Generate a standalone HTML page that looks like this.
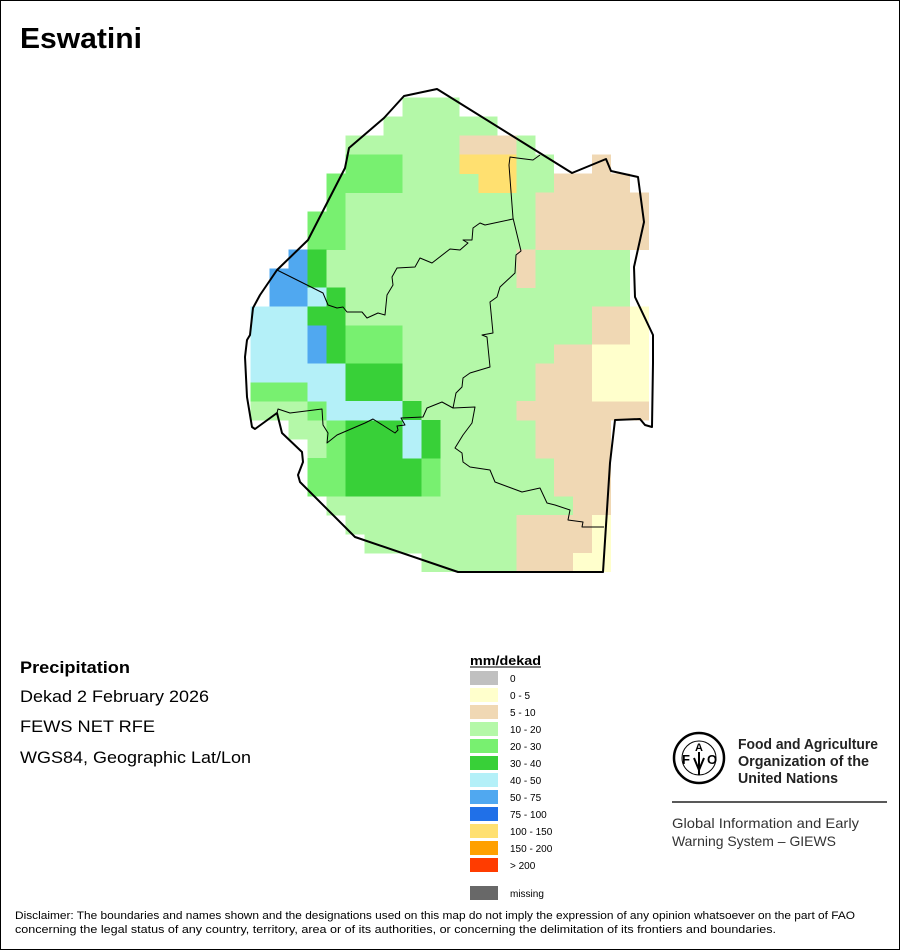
<!DOCTYPE html>
<html><head><meta charset="utf-8">
<style>
html,body{margin:0;padding:0;background:#fff;}
body{width:900px;height:950px;position:relative;overflow:hidden;font-family:"Liberation Sans",sans-serif;}
svg{position:absolute;left:0;top:0;}
</style></head><body>
<svg width="900" height="950" viewBox="0 0 900 950" xmlns="http://www.w3.org/2000/svg">
<rect x="0.5" y="0.5" width="899" height="949" fill="#fff" stroke="#000" stroke-width="1"/>
<text x="20" y="48" font-family="Liberation Sans, sans-serif" font-size="29" font-weight="bold" textLength="122" lengthAdjust="spacingAndGlyphs">Eswatini</text>
<g transform="translate(250.7,97.7) scale(18.97)" shape-rendering="crispEdges">
<g fill="#b4f8a8">
<rect x="8" y="0" width="3" height="1.02"/>
<rect x="7" y="1" width="6" height="1.02"/>
<rect x="5" y="2" width="6" height="1.02"/><rect x="14" y="2" width="1" height="1.02"/>
<rect x="8" y="3" width="3" height="1.02"/><rect x="14" y="3" width="2" height="1.02"/>
<rect x="8" y="4" width="4" height="1.02"/><rect x="14" y="4" width="2" height="1.02"/>
<rect x="5" y="5" width="10" height="3.02"/>
<rect x="4" y="8" width="10" height="2.02"/><rect x="15" y="8" width="5" height="2.02"/>
<rect x="5" y="10" width="15" height="1.02"/>
<rect x="5" y="11" width="13" height="1.02"/>
<rect x="8" y="12" width="10" height="1.02"/>
<rect x="8" y="13" width="8" height="1.02"/>
<rect x="8" y="14" width="7" height="2.02"/>
<rect x="0" y="16" width="3" height="1.02"/><rect x="9" y="16" width="5" height="1.02"/>
<rect x="2" y="17" width="2" height="1.02"/><rect x="10" y="17" width="5" height="2.02"/>
<rect x="3" y="18" width="1" height="1.02"/>
<rect x="10" y="19" width="6" height="2.02"/>
<rect x="4" y="21" width="13" height="1.02"/>
<rect x="5" y="22" width="9" height="1.02"/>
<rect x="6" y="23" width="8" height="1.02"/>
<rect x="9" y="24" width="5" height="1"/>
</g>
<g fill="#78f070">
<rect x="5" y="3" width="3" height="1.02"/>
<rect x="4" y="4" width="4" height="1.02"/>
<rect x="4" y="5" width="1" height="1.02"/>
<rect x="3" y="6" width="2" height="2.02"/>
<rect x="5" y="12" width="3" height="2.02"/>
<rect x="0" y="15" width="3" height="1.02"/>
<rect x="3" y="16" width="1" height="1.02"/>
<rect x="4" y="17" width="1" height="2.02"/>
<rect x="3" y="19" width="2" height="2.02"/><rect x="9" y="19" width="1" height="2.02"/>
</g>
<g fill="#38d038">
<rect x="3" y="8" width="1" height="2.02"/>
<rect x="4" y="10" width="1" height="1.02"/>
<rect x="3" y="11" width="2" height="1.02"/>
<rect x="4" y="12" width="1" height="2.02"/>
<rect x="5" y="14" width="3" height="2.02"/>
<rect x="8" y="16" width="1" height="1.02"/>
<rect x="5" y="17" width="3" height="2.02"/><rect x="9" y="17" width="1" height="2.02"/>
<rect x="5" y="19" width="4" height="2.02"/>
</g>
<g fill="#b4f0f8">
<rect x="3" y="10" width="1" height="1.02"/>
<rect x="0" y="11" width="3" height="3.02"/>
<rect x="3" y="14" width="2" height="2.02"/><rect x="0" y="14" width="3" height="1.02"/>
<rect x="4" y="16" width="4" height="1.02"/>
<rect x="8" y="17" width="1" height="2.02"/>
</g>
<g fill="#50a8f0">
<rect x="2" y="8" width="1" height="1.02"/>
<rect x="1" y="9" width="2" height="2.02"/>
<rect x="3" y="12" width="1" height="2.02"/>
</g>
<g fill="#f0d8b4">
<rect x="11" y="2" width="3" height="1.02"/>
<rect x="18" y="3" width="1" height="1.02"/>
<rect x="16" y="4" width="4" height="1.02"/>
<rect x="15" y="5" width="6" height="3.02"/>
<rect x="14" y="8" width="1" height="2.02"/>
<rect x="18" y="11" width="2" height="2.02"/>
<rect x="16" y="13" width="2" height="1.02"/>
<rect x="15" y="14" width="3" height="2.02"/>
<rect x="14" y="16" width="7" height="1.02"/>
<rect x="15" y="17" width="4" height="2.02"/>
<rect x="16" y="19" width="3" height="2.02"/>
<rect x="17" y="21" width="2" height="1.02"/>
<rect x="14" y="22" width="4" height="2.02"/>
<rect x="14" y="24" width="3" height="1"/>
</g>
<g fill="#ffffcc">
<rect x="20" y="11" width="1" height="2.02"/>
<rect x="18" y="13" width="3" height="3.02"/>
<rect x="18" y="22" width="1" height="2.02"/>
<rect x="17" y="24" width="2" height="1"/>
</g>
<g fill="#ffe070">
<rect x="11" y="3" width="3" height="1.02"/>
<rect x="12" y="4" width="2" height="1.02"/>
</g>
</g>
<g fill="none" stroke="#000" stroke-linejoin="round">
<polygon stroke-width="2" points="404,96 437,89 572,173 606,159 611,171 638,177 644,222 634,267 635,297 653,335 653,343 653,363 652,427 645,425 640,419 615,420 610,463 603,572 458,572 355,537 300,482 298,475 303,462 302,452 282,433 277,413 255,429 252,427 247,397 245,357 247,340 250,335 253,308 260,295 277,270 308,240 345,168 349,148 384,118"/>
<polyline stroke-width="1" points="540,155 533,160 517,158 510,157 509,165 513,218 521,251 516,255 515,273 500,287 497,297 490,302 493,333 482,335 487,337 490,367 470,373 463,378 462,387 456,393 453,408 475,407 472,423 463,435 455,448 462,453 463,462 470,467 490,470 495,482 522,492 540,488 547,503 555,505 570,510 568,520 583,522 582,527 604,527"/>
<polyline stroke-width="1" points="513,219 485,225 480,223 473,228 472,240 463,240 468,243 460,250 450,249 432,263 420,258 415,267 397,268 392,277 393,285 387,295 385,315 378,313 367,318 362,312 347,312 343,307 337,308 328,305 323,293 277,270"/>
<polyline stroke-width="1" points="277,413 278,409 290,413 322,409 323,425 328,433 327,443 337,435 365,423 373,419 395,433 398,430 397,426 405,425 401,418 423,417 427,408 442,402 453,408"/>
</g>
<g font-family="Liberation Sans, sans-serif" font-size="17" fill="#000" lengthAdjust="spacingAndGlyphs">
<text x="20" y="673" font-weight="bold" textLength="110" lengthAdjust="spacingAndGlyphs">Precipitation</text>
<text x="20" y="702" textLength="189" lengthAdjust="spacingAndGlyphs">Dekad 2 February 2026</text>
<text x="20" y="732" textLength="135" lengthAdjust="spacingAndGlyphs">FEWS NET RFE</text>
<text x="20" y="763" textLength="231" lengthAdjust="spacingAndGlyphs">WGS84, Geographic Lat/Lon</text>
</g>
<text x="470" y="665" font-family="Liberation Sans, sans-serif" font-size="13" font-weight="bold" textLength="71" lengthAdjust="spacingAndGlyphs">mm/dekad</text>
<line x1="470" y1="667" x2="541" y2="667" stroke="#000" stroke-width="1"/>
<g font-family="Liberation Sans, sans-serif" font-size="10" fill="#000">
<rect x="470" y="671" width="28" height="14" fill="#c0c0c0"/><text x="510" y="682">0</text>
<rect x="470" y="688" width="28" height="14" fill="#ffffcc"/><text x="510" y="699">0 - 5</text>
<rect x="470" y="705" width="28" height="14" fill="#f0d8b4"/><text x="510" y="716">5 - 10</text>
<rect x="470" y="722" width="28" height="14" fill="#b4f8a8"/><text x="510" y="733">10 - 20</text>
<rect x="470" y="739" width="28" height="14" fill="#78f070"/><text x="510" y="750">20 - 30</text>
<rect x="470" y="756" width="28" height="14" fill="#38d038"/><text x="510" y="767">30 - 40</text>
<rect x="470" y="773" width="28" height="14" fill="#b4f0f8"/><text x="510" y="784">40 - 50</text>
<rect x="470" y="790" width="28" height="14" fill="#50a8f0"/><text x="510" y="801">50 - 75</text>
<rect x="470" y="807" width="28" height="14" fill="#2070e8"/><text x="510" y="818">75 - 100</text>
<rect x="470" y="824" width="28" height="14" fill="#ffe070"/><text x="510" y="835">100 - 150</text>
<rect x="470" y="841" width="28" height="14" fill="#ffa000"/><text x="510" y="852">150 - 200</text>
<rect x="470" y="858" width="28" height="14" fill="#ff3c00"/><text x="510" y="869">&gt; 200</text>
<rect x="470" y="886" width="28" height="14" fill="#686868"/><text x="510" y="897">missing</text>
</g>
<g>
<circle cx="699" cy="758" r="25" fill="none" stroke="#000" stroke-width="2.5"/>
<circle cx="699" cy="758" r="17" fill="none" stroke="#000" stroke-width="1"/>
<text x="686" y="764" font-family="Liberation Sans, sans-serif" font-size="13" font-weight="bold" text-anchor="middle">F</text>
<text x="699" y="751" font-family="Liberation Sans, sans-serif" font-size="11" font-weight="bold" text-anchor="middle">A</text>
<text x="712" y="764" font-family="Liberation Sans, sans-serif" font-size="13" font-weight="bold" text-anchor="middle">O</text>
<path d="M699 752 L699 775 M694 758 L699 770 L704 758" stroke="#000" stroke-width="2" fill="none"/>
</g>
<g font-family="Liberation Sans, sans-serif" font-size="14.5" font-weight="bold" fill="#222">
<text x="738" y="749" textLength="140" lengthAdjust="spacingAndGlyphs">Food and Agriculture</text>
<text x="738" y="766" textLength="131" lengthAdjust="spacingAndGlyphs">Organization of the</text>
<text x="738" y="783" textLength="100" lengthAdjust="spacingAndGlyphs">United Nations</text>
</g>
<line x1="672" y1="802" x2="887" y2="802" stroke="#222" stroke-width="1.5"/>
<g font-family="Liberation Sans, sans-serif" font-size="14" fill="#333">
<text x="672" y="828" textLength="187" lengthAdjust="spacingAndGlyphs">Global Information and Early</text>
<text x="672" y="846" textLength="164" lengthAdjust="spacingAndGlyphs">Warning System – GIEWS</text>
</g>
<g font-family="Liberation Sans, sans-serif" font-size="11" fill="#000">
<text x="15" y="919" textLength="840" lengthAdjust="spacingAndGlyphs">Disclaimer: The boundaries and names shown and the designations used on this map do not imply the expression of any opinion whatsoever on the part of FAO</text>
<text x="15" y="933" textLength="761" lengthAdjust="spacingAndGlyphs">concerning the legal status of any country, territory, area or of its authorities, or concerning the delimitation of its frontiers and boundaries.</text>
</g>
</svg>
</body></html>
